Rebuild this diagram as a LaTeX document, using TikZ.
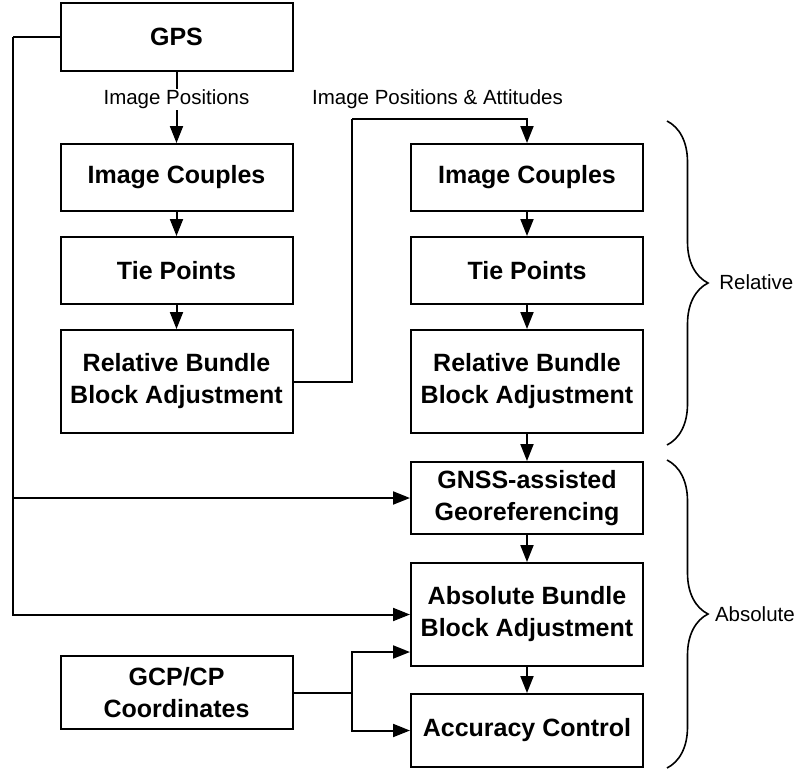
\documentclass[tikz,border=0pt]{standalone}
\usepackage{fontspec}
\setmainfont{Liberation Sans}
\usetikzlibrary{arrows.meta,decorations.pathreplacing,calc}

\begin{document}
\begin{tikzpicture}[x=1pt, y=-1pt, line width=2pt,
    box/.style={draw, line width=2pt, minimum width=232pt, align=center, inner sep=0pt,
        font=\fontsize{25}{32}\selectfont\bfseries},
    lbl/.style={font=\fontsize{20.5}{24}\selectfont},
    arr/.style={-{Triangle[length=17pt,width=13pt]}}]
    \useasboundingbox (0,0) rectangle (797,772);
    % left column
    \node[box, minimum height=68pt] (gps) at (176.5,37) {GPS};
    \node[box, minimum height=67pt] (icA) at (176.5,177.5) {Image Couples};
    \node[box, minimum height=67pt] (tpA) at (176.5,270.5) {Tie Points};
    \node[box, minimum height=103pt] (rbA) at (176.5,381.5) {Relative Bundle\\Block Adjustment};
    \node[box, minimum height=73pt] (gcp) at (176.5,692.5) {GCP/CP\\Coordinates};
    % right column
    \node[box, minimum height=67pt] (icB) at (527,177.5) {Image Couples};
    \node[box, minimum height=67pt] (tpB) at (527,270.5) {Tie Points};
    \node[box, minimum height=103pt] (rbB) at (527,381.5) {Relative Bundle\\Block Adjustment};
    \node[box, minimum height=72pt] (gnss) at (527,498) {GNSS-assisted\\Georeferencing};
    \node[box, minimum height=103pt] (abs) at (527,614.5) {Absolute Bundle\\Block Adjustment};
    \node[box, minimum height=73pt] (acc) at (527,730.5) {Accuracy Control};
    \coordinate (lft) at (13,37);
    \coordinate (up) at (352,119);
    \coordinate (split) at (352,692.5);
    % connectors
    \draw[arr] (gps) -- node[lbl, fill=white, inner sep=1pt, pos=0.39] (lblpos) {Image Positions} (icA);
    \draw[arr] (icA) -- (tpA);
    \draw[arr] (tpA) -- (rbA);
    \draw (rbA.east) -| (up);
    \draw[arr] (up) -| (icB.north);
    \node[lbl] (lblatt) at (437.5,99) {Image Positions \& Attitudes};
    \draw[arr] (icB) -- (tpB);
    \draw[arr] (tpB) -- (rbB);
    \draw[arr] (rbB) -- (gnss);
    \draw[arr] (gnss) -- (abs);
    \draw[arr] (abs) -- (acc);
    \draw (gps.west) -- (lft);
    \draw[arr] (lft) |- (abs.west);
    \draw[arr] (lft |- gnss.west) -- (gnss.west);
    \draw (gcp.east) -- (split);
    \draw[arr] (split) |- ($(abs.west)+(0,37.5)$);
    \draw[arr] (split) |- (acc.west);
    % braces
    \draw[decorate, decoration={brace, amplitude=41pt}, line width=1.6pt] (667,121) -- (667,445);
    \draw[decorate, decoration={brace, amplitude=41pt}, line width=1.6pt] (667,460) -- (667,768);
    \node[lbl, anchor=west] (rel) at (715,282) {Relative};
    \node[lbl, anchor=west, inner sep=0pt] (absl) at (714,614) {Absolute};
\end{tikzpicture}
\end{document}
